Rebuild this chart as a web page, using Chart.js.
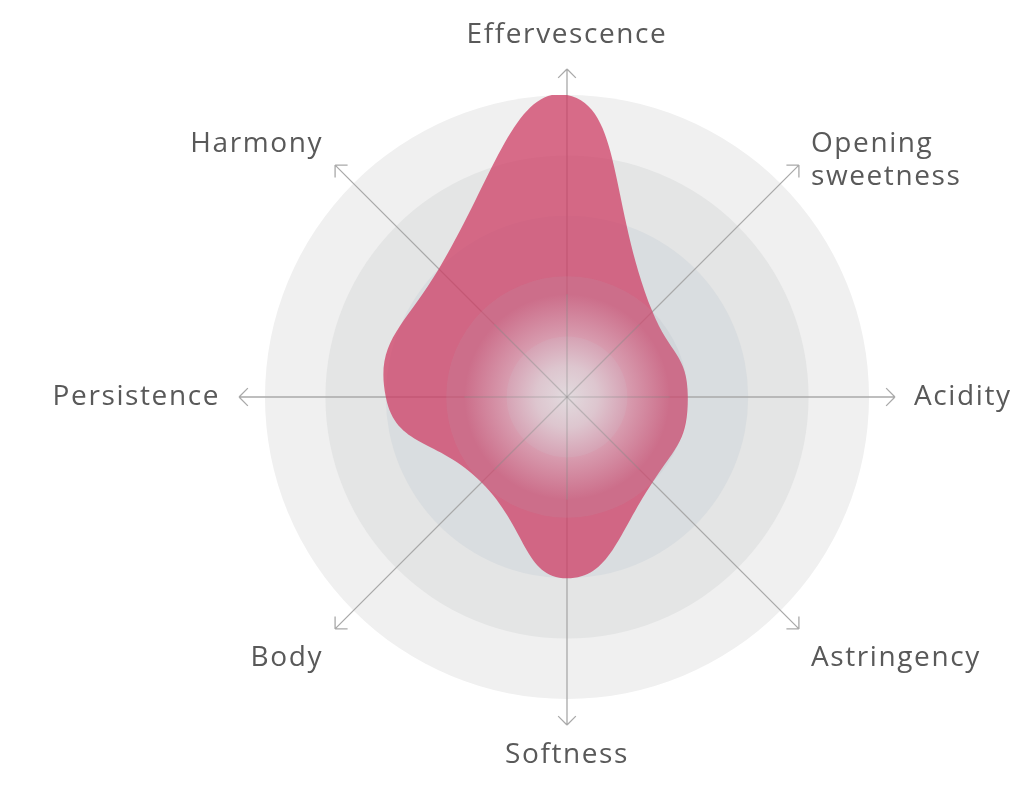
<!DOCTYPE html>
<html>
<head>
<meta charset="utf-8">
<title>Tasting profile</title>
<script src="https://cdn.jsdelivr.net/npm/chart.js@4/dist/chart.umd.min.js"></script>
<style>
  html, body { margin: 0; padding: 0; background: #ffffff; }
  #wrap { width: 1024px; height: 789px; position: relative; }
</style>
</head>
<body>
<div id="wrap"><canvas id="chart" width="1024" height="789"></canvas></div>
<script>
// Tasting attributes, clockwise from the top (multi-line names are split into lines)
const categories = [
  ['Effervescence'],
  ['Opening', 'sweetness'],
  ['Acidity'],
  ['Astringency'],
  ['Softness'],
  ['Body'],
  ['Persistence'],
  ['Harmony']
];
// Score for each attribute on a 0-5 scale
const tastingScores = [5, 2, 2, 2, 3, 2, 3, 3];
// Concentric rings of the scale
const ringLevels = [5, 4, 3, 2, 1];
const scaleMax = 5;

// Ring fills, from the outermost ring inwards
const ringColors = ['#f0f0f0', '#e4e5e5', '#d9dde0', '#d4d8dc', '#d0d4d8'];
const axisColor = '#a9a9a9';
const labelColor = '#595959';

const backdropPlugin = {
  id: 'tastingBackdrop',
  beforeDatasetsDraw(chart) {
    const s = chart.scales.r;
    const ctx = chart.ctx;
    const cx = s.xCenter, cy = s.yCenter;
    ctx.save();
    // concentric rings
    ringLevels.forEach((lvl, i) => {
      ctx.beginPath();
      ctx.arc(cx, cy, s.getDistanceFromCenterForValue(lvl), 0, Math.PI * 2);
      ctx.fillStyle = ringColors[i];
      ctx.fill();
    });
    // axes with open arrow heads, reaching a little past the outer ring
    const reach = s.getDistanceFromCenterForValue(scaleMax * 1.086);
    ctx.strokeStyle = axisColor;
    ctx.lineWidth = 1.3;
    categories.forEach((_, i) => {
      const tip = s.getPointPosition(i, reach);
      const ang = Math.atan2(tip.y - cy, tip.x - cx);
      ctx.beginPath();
      ctx.moveTo(cx, cy);
      ctx.lineTo(tip.x, tip.y);
      const arm = 12.5;
      for (const d of [Math.PI * 0.75, -Math.PI * 0.75]) {
        ctx.moveTo(tip.x, tip.y);
        ctx.lineTo(tip.x + arm * Math.cos(ang + d), tip.y + arm * Math.sin(ang + d));
      }
      ctx.stroke();
    });
    ctx.restore();
  },
  afterDatasetsDraw(chart) {
    const s = chart.scales.r;
    const ctx = chart.ctx;
    const cx = s.xCenter, cy = s.yCenter;
    const r1 = s.getDistanceFromCenterForValue(1);
    const r2 = s.getDistanceFromCenterForValue(2);
    ctx.save();
    // inner rings tint
    ctx.beginPath();
    ctx.arc(cx, cy, r2, 0, Math.PI * 2);
    ctx.fillStyle = 'rgba(185,195,205,0.1)';
    ctx.fill();
    ctx.beginPath();
    ctx.arc(cx, cy, r1, 0, Math.PI * 2);
    ctx.fillStyle = 'rgba(185,195,205,0.14)';
    ctx.fill();
    // soft light in the middle
    const gr = r1 * 1.7;
    const g = ctx.createRadialGradient(cx, cy, 0, cx, cy, gr);
    g.addColorStop(0, 'rgba(228,226,228,0.93)');
    g.addColorStop(0.3, 'rgba(228,224,227,0.75)');
    g.addColorStop(0.6, 'rgba(232,222,228,0.4)');
    g.addColorStop(1, 'rgba(232,222,228,0)');
    ctx.beginPath();
    ctx.arc(cx, cy, gr, 0, Math.PI * 2);
    ctx.fillStyle = g;
    ctx.fill();
    // faint axis lines through the centre light
    ctx.strokeStyle = 'rgba(150,150,150,0.5)';
    ctx.lineWidth = 1.2;
    categories.forEach((_, i) => {
      const p = s.getPointPosition(i, gr);
      ctx.beginPath();
      ctx.moveTo(cx, cy);
      ctx.lineTo(p.x, p.y);
      ctx.stroke();
    });

    // attribute names
    ctx.fillStyle = labelColor;
    ctx.font = '400 28px "Open Sans", "Noto Sans", sans-serif';
    ctx.letterSpacing = '1.6px';
    ctx.textBaseline = 'middle';
    const dist = s.getDistanceFromCenterForValue(scaleMax) + 43;
    const lineH = 33;
    categories.forEach((lines, i) => {
      const p = s.getPointPosition(i, dist);
      const dx = p.x - cx, dy = p.y - cy;
      const straightV = Math.abs(dx) < 1;
      const straightH = Math.abs(dy) < 1;
      ctx.textAlign = straightV ? 'center' : (dx > 0 ? 'left' : 'right');
      let x0 = p.x;
      let y0 = p.y;
      if (straightH) {
        x0 += Math.sign(dx) * 2;
      } else if (straightV) {
        y0 += dy < 0 ? -17 : 13;
      } else {
        y0 += dy < 0 ? -9 : 17;
      }
      lines.forEach((t, k) => ctx.fillText(t, x0, y0 + k * lineH));
    });
    ctx.restore();
  }
};

new Chart(document.getElementById('chart'), {
  type: 'radar',
  data: {
    labels: categories,
    datasets: [{
      data: tastingScores,
      backgroundColor: 'rgba(205,57,97,0.73)',
      borderWidth: 0,
      pointRadius: 0,
      pointHoverRadius: 0,
      fill: true,
      tension: 0.5
    }]
  },
  options: {
    responsive: false,
    animation: false,
    layout: { padding: { left: 265, right: 155, top: 95, bottom: 90 } },
    plugins: { legend: { display: false }, tooltip: { enabled: false } },
    scales: {
      r: {
        min: 0,
        max: scaleMax,
        ticks: { display: false },
        grid: { display: false },
        angleLines: { display: false },
        pointLabels: { display: false }
      }
    }
  },
  plugins: [backdropPlugin]
});
</script>
</body>
</html>
